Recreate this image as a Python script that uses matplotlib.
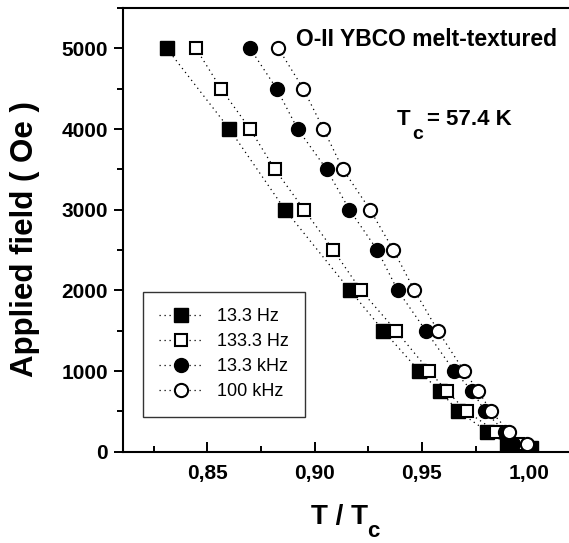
import numpy as np
import matplotlib.pyplot as plt
from matplotlib.ticker import MultipleLocator, FuncFormatter

plt.rcParams['font.family'] = ['Liberation Sans', 'DejaVu Sans']

# field (Oe) and reduced temperature T/Tc for each frequency
field_133hz = [5000, 4000, 3000, 2000, 1500, 1000, 750, 500, 250, 100, 50]
t_133hz = [0.8311, 0.8603, 0.8862, 0.9165, 0.9320, 0.9487, 0.9584, 0.9670, 0.9805, 0.9895, 1.0010]

field_1333hz = [5000, 4500, 4000, 3500, 3000, 2500, 2000, 1500, 1000, 750, 500, 250, 100]
t_1333hz = [0.8447, 0.8564, 0.8699, 0.8815, 0.8951, 0.9087, 0.9216, 0.9379, 0.9534, 0.9616, 0.9709, 0.9845, 0.9948]

field_133khz = [5000, 4500, 4000, 3500, 3000, 2500, 2000, 1500, 1000, 750, 500, 250, 100]
t_133khz = [0.8699, 0.8823, 0.8921, 0.9056, 0.9162, 0.9292, 0.9387, 0.9518, 0.9650, 0.9735, 0.9794, 0.9885, 0.9925]

field_100khz = [5000, 4500, 4000, 3500, 3000, 2500, 2000, 1500, 1000, 750, 500, 250, 100]
t_100khz = [0.8831, 0.8947, 0.9041, 0.9132, 0.9258, 0.9367, 0.9465, 0.9574, 0.9696, 0.9763, 0.9822, 0.9905, 0.9988]

fig = plt.figure(figsize=(5.69, 5.43), dpi=100)
ax = fig.add_axes([0.2153, 0.1681, 0.7877, 0.8172])

ls = (0, (1, 3))
ax.plot(t_133hz, field_133hz, ls=ls, lw=0.9, c='k', marker='s', ms=9.5,
        mfc='k', mec='k', label='13.3 Hz')
ax.plot(t_1333hz, field_1333hz, ls=ls, lw=0.9, c='k', marker='s', ms=9,
        mfc='white', mec='k', mew=1.5, label='133.3 Hz')
ax.plot(t_133khz, field_133khz, ls=ls, lw=0.9, c='k', marker='o', ms=10,
        mfc='k', mec='k', label='13.3 kHz')
ax.plot(t_100khz, field_100khz, ls=ls, lw=0.9, c='k', marker='o', ms=9.5,
        mfc='white', mec='k', mew=1.5, label='100 kHz')

ax.set_xlim(0.8105, 1.0193)
ax.set_ylim(0, 5500)

ax.xaxis.set_major_locator(MultipleLocator(0.05))
ax.xaxis.set_minor_locator(MultipleLocator(0.025))
ax.yaxis.set_major_locator(MultipleLocator(1000))
ax.yaxis.set_minor_locator(MultipleLocator(500))
ax.xaxis.set_major_formatter(FuncFormatter(lambda v, p: f"{v:.2f}".replace('.', ',')))

ax.tick_params(axis='x', which='major', direction='in', length=7, width=1.4,
               labelsize=15, pad=9)
ax.tick_params(axis='x', which='minor', direction='in', length=4.5, width=1.4)
ax.tick_params(axis='y', which='major', direction='out', length=6.5, width=1.4,
               labelsize=15, pad=4)
ax.tick_params(axis='y', which='minor', direction='out', length=4, width=1.4)
for lab in ax.get_xticklabels() + ax.get_yticklabels():
    lab.set_fontweight('bold')

for s in ax.spines.values():
    s.set_linewidth(1.5)
ax.spines['right'].set_visible(False)

# x label with a low subscript, placed by hand below the axis
fig.text(311 / 569, 1 - 524 / 543, "T / T", fontsize=20, fontweight='bold',
         ha='left', va='baseline')
fig.text(367 / 569, 1 - 537 / 543, "c", fontsize=16, fontweight='bold',
         ha='left', va='baseline')

ax.set_ylabel("Applied field ( Oe )", fontsize=22.5, fontweight='bold')
ax.yaxis.set_label_coords(-0.185, 0.48)

ax.text(1.013, 5110, "O-II YBCO melt-textured", fontsize=16.5, fontweight='bold',
        ha='right', va='center')
ax.text(0.9383, 4044, "T", fontsize=16, fontweight='bold', ha='left', va='baseline')
ax.text(0.9453, 3875, "c", fontsize=14, fontweight='bold', ha='left', va='baseline')
ax.text(0.9524, 4044, "= 57.4 K", fontsize=16, fontweight='bold', ha='left', va='baseline')

leg = ax.legend(loc='lower left', bbox_to_anchor=(0.045, 0.079), borderaxespad=0,
                fontsize=13, fancybox=False, edgecolor='k', handlelength=2.4,
                labelspacing=0.45, handletextpad=0.8, borderpad=0.9)
leg.get_frame().set_linewidth(1.0)

fig.savefig("out.png", dpi=100)
